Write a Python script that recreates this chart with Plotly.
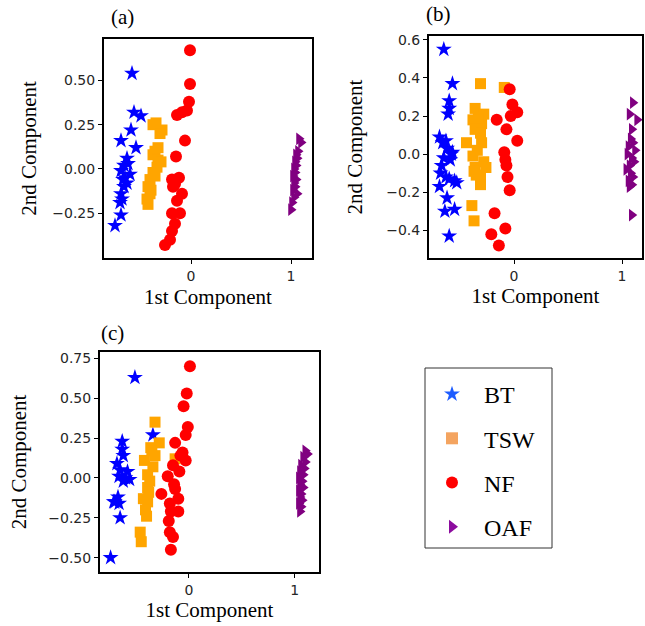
import plotly.graph_objects as go

W, H = 645, 626

categories = ["BT", "TSW", "NF", "OAF"]
scatter_colors = ["#0000ff", "#ffa500", "#ff0000", "#800080"]
legend_colors = ["#1d5cff", "#f4a460", "#ff0000", "#8c0c9e"]
symbols = ["star", "square", "circle", "triangle-right"]
sizes = [12, 11, 12, 11]

# ---- Panel (a) ----
a_bt_x = [-0.59, -0.57, -0.50, -0.60, -0.70, -0.55, -0.64, -0.67, -0.70, -0.61, -0.68, -0.64, -0.67, -0.70, -0.69, -0.71, -0.70, -0.76, -0.63, -0.66]
a_bt_y = [0.54, 0.32, 0.30, 0.22, 0.16, 0.12, 0.06, 0.02, -0.01, -0.03, -0.06, -0.08, -0.10, -0.14, -0.17, -0.19, -0.26, -0.32, 0.03, -0.05]
a_tsw_x = [-0.35, -0.29, -0.38, -0.31, -0.36, -0.38, -0.33, -0.34, -0.38, -0.41, -0.43, -0.41, -0.44, -0.43, -0.36, -0.40, -0.30, -0.33]
a_tsw_y = [0.26, 0.22, 0.25, 0.20, 0.10, 0.08, 0.05, 0.01, -0.02, -0.06, -0.10, -0.14, -0.17, -0.20, -0.04, -0.12, 0.04, 0.12]
a_nf_x = [-0.01, -0.01, -0.02, -0.04, -0.09, -0.14, -0.06, -0.15, -0.12, -0.19, -0.18, -0.09, -0.14, -0.19, -0.11, -0.16, -0.19, -0.21, -0.26, -0.16]
a_nf_y = [0.67, 0.48, 0.38, 0.33, 0.32, 0.305, 0.16, 0.07, -0.05, -0.06, -0.10, -0.14, -0.18, -0.25, -0.25, -0.31, -0.35, -0.40, -0.43, -0.085]
a_oaf_x = [1.08, 1.10, 1.07, 1.05, 1.06, 1.04, 1.05, 1.03, 1.04, 1.02, 1.05, 1.03, 1.04, 1.02, 1.06, 1.03, 1.01, 1.00]
a_oaf_y = [0.17, 0.15, 0.10, 0.08, 0.06, 0.04, 0.02, 0.00, -0.02, -0.04, -0.06, -0.08, -0.10, -0.12, -0.14, -0.16, -0.19, -0.23]

# ---- Panel (b) ----
b_bt_x = [-0.65, -0.57, -0.60, -0.60, -0.61, -0.69, -0.63, -0.62, -0.57, -0.65, -0.59, -0.67, -0.68, -0.63, -0.60, -0.53, -0.55, -0.69, -0.62, -0.64, -0.55, -0.60, -0.58, -0.66]
b_bt_y = [0.55, 0.37, 0.28, 0.24, 0.21, 0.09, 0.07, 0.03, 0.01, -0.02, -0.03, -0.06, -0.10, -0.12, -0.13, -0.15, -0.14, -0.17, -0.23, -0.30, -0.29, -0.43, 0.00, 0.06]
b_tsw_x = [-0.31, -0.09, -0.36, -0.28, -0.38, -0.30, -0.36, -0.31, -0.44, -0.30, -0.34, -0.38, -0.28, -0.36, -0.26, -0.37, -0.31, -0.31, -0.39, -0.37, -0.33, -0.35]
b_tsw_y = [0.37, 0.35, 0.24, 0.21, 0.18, 0.16, 0.13, 0.11, 0.06, 0.06, 0.02, -0.01, -0.04, -0.07, -0.07, -0.09, -0.12, -0.16, -0.27, -0.35, 0.19, -0.11]
b_nf_x = [-0.04, -0.015, 0.03, -0.03, -0.16, -0.07, 0.03, -0.09, -0.08, -0.07, -0.06, -0.04, -0.18, -0.08, -0.21, -0.14]
b_nf_y = [0.34, 0.26, 0.22, 0.20, 0.18, 0.13, 0.07, 0.01, -0.03, -0.06, -0.12, -0.19, -0.31, -0.39, -0.42, -0.48]
b_oaf_x = [1.10, 1.07, 1.14, 1.09, 1.08, 1.10, 1.06, 1.12, 1.05, 1.09, 1.11, 1.07, 1.04, 1.08, 1.10, 1.06, 1.09, 1.07, 1.09]
b_oaf_y = [0.27, 0.21, 0.18, 0.13, 0.08, 0.06, 0.04, 0.02, 0.00, -0.02, -0.04, -0.06, -0.08, -0.10, -0.12, -0.14, -0.16, -0.17, -0.32]

# ---- Panel (c) ----
c_bt_x = [-0.51, -0.34, -0.63, -0.63, -0.62, -0.68, -0.65, -0.58, -0.66, -0.62, -0.56, -0.67, -0.70, -0.66, -0.65, -0.74, -0.60, -0.71]
c_bt_y = [0.63, 0.27, 0.23, 0.18, 0.14, 0.09, 0.05, 0.04, 0.01, -0.02, -0.01, -0.12, -0.15, -0.16, -0.25, -0.50, 0.00, -0.15]
c_tsw_x = [-0.32, -0.13, -0.28, -0.36, -0.42, -0.32, -0.34, -0.39, -0.37, -0.39, -0.43, -0.39, -0.41, -0.40, -0.46, -0.45, -0.35, -0.38]
c_tsw_y = [0.35, 0.12, 0.22, 0.19, 0.11, 0.14, 0.07, 0.02, -0.02, -0.06, -0.13, -0.15, -0.20, -0.24, -0.34, -0.40, 0.17, -0.09]
c_nf_x = [0.01, -0.02, -0.05, -0.01, -0.03, -0.13, -0.06, -0.03, -0.15, -0.09, -0.20, -0.13, -0.26, -0.10, -0.18, -0.17, -0.10, -0.19, -0.18, -0.15, -0.17, -0.08, -0.14]
c_nf_y = [0.70, 0.53, 0.45, 0.32, 0.27, 0.22, 0.16, 0.11, 0.08, 0.04, 0.01, -0.07, -0.10, -0.13, -0.16, -0.21, -0.21, -0.27, -0.34, -0.37, -0.45, 0.14, -0.04]
c_oaf_x = [1.10, 1.12, 1.08, 1.10, 1.06, 1.09, 1.05, 1.08, 1.04, 1.07, 1.05, 1.08, 1.04, 1.06, 1.05, 1.07, 1.04, 1.06, 1.05]
c_oaf_y = [0.17, 0.15, 0.13, 0.10, 0.08, 0.06, 0.04, 0.02, 0.00, -0.02, -0.04, -0.06, -0.08, -0.10, -0.12, -0.14, -0.16, -0.18, -0.21]

# tick labels
x_tickvals = [0, 1]
x_ticktext = ["0", "1"]
a_y_tickvals = [-0.25, 0, 0.25, 0.5]
a_y_ticktext = ["\u22120.25", "0.00", "0.25", "0.50"]
b_y_tickvals = [-0.4, -0.2, 0, 0.2, 0.4, 0.6]
b_y_ticktext = ["\u22120.4", "\u22120.2", "0.0", "0.2", "0.4", "0.6"]
c_y_tickvals = [-0.5, -0.25, 0, 0.25, 0.5, 0.75]
c_y_ticktext = ["\u22120.50", "\u22120.25", "0.00", "0.25", "0.50", "0.75"]

panels = [
    ("(a)", [(a_bt_x, a_bt_y), (a_tsw_x, a_tsw_y), (a_nf_x, a_nf_y), (a_oaf_x, a_oaf_y)]),
    ("(b)", [(b_bt_x, b_bt_y), (b_tsw_x, b_tsw_y), (b_nf_x, b_nf_y), (b_oaf_x, b_oaf_y)]),
    ("(c)", [(c_bt_x, c_bt_y), (c_tsw_x, c_tsw_y), (c_nf_x, c_nf_y), (c_oaf_x, c_oaf_y)]),
]

def px_dom(a, b, total):
    return [a / total, b / total]

def py_dom(top, bottom):
    return [1 - bottom / H, 1 - top / H]

# pixel boxes of the three plot areas (left, right, top, bottom)
boxes = [(104, 312, 39, 258), (429, 642, 36, 258), (100, 319, 352, 572)]
xranges = [[-0.87, 1.21], [-0.787, 1.185], [-0.84, 1.23]]
yranges = [[-0.503, 0.734], [-0.545, 0.62], [-0.59, 0.79]]
ytickv = [a_y_tickvals, b_y_tickvals, c_y_tickvals]
ytickt = [a_y_ticktext, b_y_ticktext, c_y_ticktext]

fig = go.Figure()
for pi, (label, series) in enumerate(panels):
    xa = "x" if pi == 0 else f"x{pi+1}"
    ya = "y" if pi == 0 else f"y{pi+1}"
    for si, (xs, ys) in enumerate(series):
        fig.add_trace(go.Scatter(
            x=xs, y=ys, mode="markers", xaxis=xa, yaxis=ya,
            marker=dict(symbol=symbols[si], size=sizes[si], color=scatter_colors[si],
                        line=dict(width=0)),
            showlegend=False, hoverinfo="skip", name=categories[si]))

# legend entries
for si, cat in enumerate(categories):
    fig.add_trace(go.Scatter(
        x=[None], y=[None], mode="markers", name=cat, legendgroup=cat,
        marker=dict(symbol=symbols[si], size=16, color=legend_colors[si], line=dict(width=0)),
        showlegend=True))

serif = "Liberation Serif, Times New Roman, serif"
tick_font = dict(family="DejaVu Sans", size=14, color="#262626")
title_font = dict(family=serif, size=21, color="black")

layout = dict(
    width=W, height=H, margin=dict(l=0, r=0, t=0, b=0, autoexpand=False),
    paper_bgcolor="white", plot_bgcolor="white",
    font=dict(family=serif),
    showlegend=True,
    legend=dict(x=420 / W, y=1 - 372 / H, xanchor="left", yanchor="top",
                bgcolor="rgba(0,0,0,0)", borderwidth=0,
                font=dict(family="Times New Roman", size=24, color="black"),
                tracegroupgap=10, itemsizing="constant", itemwidth=54),
)
standoffs_x = [7, 4, 2]
standoffs_y = [10, 18, 16]
for pi in range(3):
    l, r, t, b = boxes[pi]
    xk = "xaxis" if pi == 0 else f"xaxis{pi+1}"
    yk = "yaxis" if pi == 0 else f"yaxis{pi+1}"
    xa = "x" if pi == 0 else f"x{pi+1}"
    ya = "y" if pi == 0 else f"y{pi+1}"
    layout[xk] = dict(domain=px_dom(l, r, W), range=xranges[pi], anchor=ya,
                      showline=True, mirror=True, linecolor="black", linewidth=2,
                      showgrid=False, zeroline=False, ticks="outside", ticklen=4,
                      tickwidth=1, tickcolor="black", automargin=False,
                      tickvals=x_tickvals, ticktext=x_ticktext, tickfont=tick_font,
                      title=dict(text="1st Component", font=title_font, standoff=standoffs_x[pi]))
    layout[yk] = dict(domain=py_dom(t, b), range=yranges[pi], anchor=xa,
                      showline=True, mirror=True, linecolor="black", linewidth=2,
                      showgrid=False, zeroline=False, ticks="outside", ticklen=4,
                      tickwidth=1, tickcolor="black", automargin=False,
                      tickvals=ytickv[pi], ticktext=ytickt[pi], tickfont=tick_font,
                      title=dict(text="2nd Component", font=title_font, standoff=standoffs_y[pi]))

fig.update_layout(**layout)

# panel labels
label_pos = [(122, 17), (438, 14), (112, 333)]
for (label, _), (lx, ly) in zip(panels, label_pos):
    fig.add_annotation(text=label, x=lx / W, y=1 - ly / H, xref="paper", yref="paper",
                       showarrow=False, xanchor="center", yanchor="middle",
                       font=dict(family=serif, size=21, color="black"))

# legend frame
fig.add_shape(type="rect", xref="paper", yref="paper",
              x0=425 / W, x1=552 / W, y0=1 - 548 / H, y1=1 - 368 / H,
              line=dict(color="#333333", width=1), fillcolor="rgba(0,0,0,0)")

fig.write_html("out.html", config={"displayModeBar": False},
               post_script="document.body.style.margin='0px';document.body.style.overflow='hidden';")
